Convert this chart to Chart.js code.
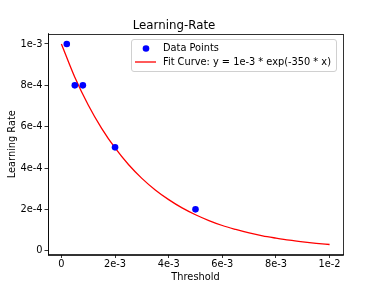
<!DOCTYPE html>
<html>
<head>
<meta charset="utf-8">
<script src="https://cdn.jsdelivr.net/npm/chart.js@4/dist/chart.umd.min.js"></script>
<style>
html,body{margin:0;padding:0;background:#fff;}
#wrap{width:381px;height:286px;}
</style>
</head>
<body>
<div id="wrap"><canvas id="c" width="381" height="286"></canvas></div>
<script>
// Data
const pointX = [0.0002, 0.0005, 0.0008, 0.002, 0.005];
const pointY = [1e-3, 8e-4, 8e-4, 5e-4, 2e-4];
const curveX = [0, 0.0005, 0.001, 0.0015, 0.002, 0.0025, 0.003, 0.0035, 0.004, 0.0045, 0.005,
                0.0055, 0.006, 0.0065, 0.007, 0.0075, 0.008, 0.0085, 0.009, 0.0095, 0.01];
const curveY = [1.0e-3, 8.39e-4, 7.05e-4, 5.92e-4, 4.97e-4, 4.17e-4, 3.50e-4, 2.94e-4, 2.47e-4, 2.07e-4, 1.74e-4,
                1.46e-4, 1.22e-4, 1.03e-4, 8.6e-5, 7.2e-5, 6.1e-5, 5.1e-5, 4.3e-5, 3.6e-5, 3.0e-5];
const xTickValues = [0, 0.002, 0.004, 0.006, 0.008, 0.01];
const xTickLabels = ["0", "2e-3", "4e-3", "6e-3", "8e-3", "1e-2"];
const yTickValues = [0, 0.0002, 0.0004, 0.0006, 0.0008, 0.001];
const yTickLabels = ["0", "2e-4", "4e-4", "6e-4", "8e-4", "1e-3"];
const seriesNames = ["Data Points", "Fit Curve: y = 1e-3 * exp(-350 * x)"];

const FONT = "'DejaVu Sans', sans-serif";
const FS = 9.8;

const frame = {
  id: 'frame',
  afterDatasetsDraw(chart) {
    const {ctx, chartArea: a} = chart;
    ctx.save();
    ctx.strokeStyle = '#000';
    ctx.lineWidth = 0.8;
    ctx.strokeRect(Math.round(a.left)+0.5, Math.round(a.top)+0.5, Math.round(a.right-a.left), Math.round(a.bottom-a.top));
    // legend
    const lx = 131.5, ly = 39.5, lw = 205, lh = 32, r = 2.5;
    ctx.fillStyle = 'rgba(255,255,255,0.85)';
    ctx.strokeStyle = '#d0d0d0';
    ctx.lineWidth = 1;
    ctx.beginPath();
    ctx.roundRect(lx, ly, lw, lh, r);
    ctx.fill();
    ctx.stroke();
    const ds = chart.data.datasets;
    ctx.fillStyle = ds[0].backgroundColor;
    ctx.beginPath();
    ctx.arc(146, 48.5, 3.3, 0, Math.PI*2);
    ctx.fill();
    ctx.strokeStyle = ds[1].borderColor;
    ctx.lineWidth = 1.3;
    ctx.beginPath();
    ctx.moveTo(135, 62); ctx.lineTo(156, 62);
    ctx.stroke();
    ctx.fillStyle = '#000';
    ctx.font = FS + "px " + FONT;
    ctx.textBaseline = 'middle';
    ctx.textAlign = 'left';
    ctx.fillText(ds[0].label, 163, 48);
    ctx.fillText(ds[1].label, 163, 62);
    ctx.restore();
  }
};

new Chart(document.getElementById('c'), {
  data: {
    datasets: [
      {
        type: 'scatter',
        label: seriesNames[0],
        data: pointX.map((x, i) => ({x, y: pointY[i]})),
        backgroundColor: '#0000ff',
        borderColor: '#0000ff',
        pointRadius: 3.3,
        pointBorderWidth: 0,
        order: 1
      },
      {
        type: 'line',
        label: seriesNames[1],
        data: curveX.map((x, i) => ({x, y: curveY[i]})),
        borderColor: '#ff0000',
        borderWidth: 1.3,
        pointRadius: 0,
        fill: false,
        cubicInterpolationMode: 'monotone',
        order: 2
      }
    ]
  },
  options: {
    responsive: false,
    animation: false,
    layout: {padding: {left: 5, right: 38, top: 0, bottom: 3}},
    plugins: {
      legend: {display: false},
      tooltip: {enabled: false},
      title: {
        display: true,
        text: 'Learning-Rate',
        color: '#000',
        font: {family: FONT, size: 11.8, weight: 'normal', lineHeight: 1.2},
        padding: {top: 19, bottom: 0.8}
      }
    },
    scales: {
      x: {
        type: 'linear',
        min: -0.0005, max: 0.0105,
        afterBuildTicks: s => { s.ticks = xTickValues.map(v => ({value: v})); },
        afterFit: s => { s.height = 28.5; },
        ticks: {
          callback: (v, i) => xTickLabels[i],
          color: '#000',
          font: {family: FONT, size: FS},
          padding: 1,
          maxRotation: 0,
          autoSkip: false
        },
        grid: {drawOnChartArea: false, drawTicks: true, tickLength: 3.5, color: '#000', lineWidth: 0.8},
        border: {display: true, color: '#000', width: 0.8},
        title: {display: true, text: 'Threshold', color: '#000', font: {family: FONT, size: FS}, padding: {top: 1, bottom: 0}}
      },
      y: {
        type: 'linear',
        min: -0.0000183, max: 0.0010485,
        afterBuildTicks: s => { s.ticks = yTickValues.map(v => ({value: v})); },
        afterFit: s => { s.width = 43; },
        ticks: {
          callback: (v, i) => yTickLabels[i],
          color: '#000',
          font: {family: FONT, size: FS},
          padding: 2,
          autoSkip: false
        },
        grid: {drawOnChartArea: false, drawTicks: true, tickLength: 3.5, color: '#000', lineWidth: 0.8},
        border: {display: true, color: '#000', width: 0.8},
        title: {display: true, text: 'Learning Rate', color: '#000', font: {family: FONT, size: FS}, padding: {top: 2, bottom: 2}}
      }
    }
  },
  plugins: [frame]
});
</script>
</body>
</html>
